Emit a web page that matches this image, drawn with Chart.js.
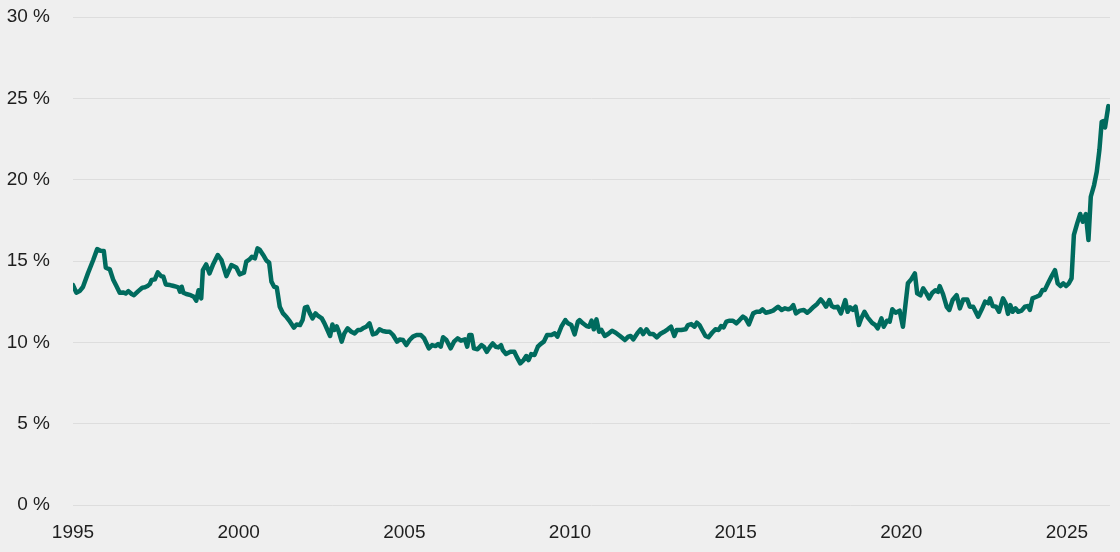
<!DOCTYPE html>
<html>
<head>
<meta charset="utf-8">
<script src="https://cdn.jsdelivr.net/npm/chart.js@4"></script>
<style>
  html, body { margin: 0; padding: 0; background: #efefef; }
  canvas { display: block; }
</style>
</head>
<body>
<canvas id="canvas1" width="1120" height="552"></canvas>
<script>
// time position (decimal year) and share in %
const years = [
  1995.00, 1995.10, 1995.20, 1995.30, 1995.45, 1995.61, 1995.73, 1995.83, 1995.93, 1995.99,
  1996.11, 1996.21, 1996.31, 1996.41, 1996.51, 1996.59, 1996.67, 1996.77, 1996.84, 1996.97,
  1997.09, 1997.17, 1997.25, 1997.32, 1997.37, 1997.47, 1997.56, 1997.66, 1997.73, 1997.80,
  1997.93, 1998.01, 1998.11, 1998.18, 1998.23, 1998.28, 1998.33, 1998.42, 1998.55, 1998.65,
  1998.72, 1998.79, 1998.87, 1998.92, 1999.02, 1999.12, 1999.22, 1999.37, 1999.48, 1999.63,
  1999.78, 1999.93, 2000.03, 2000.16, 2000.23, 2000.33, 2000.40, 2000.49, 2000.57, 2000.64,
  2000.74, 2000.84, 2000.92, 2000.99, 2001.07, 2001.15, 2001.24, 2001.34, 2001.45, 2001.55,
  2001.67, 2001.75, 2001.85, 2001.93, 2002.00, 2002.07, 2002.15, 2002.23, 2002.32, 2002.40,
  2002.51, 2002.59, 2002.68, 2002.76, 2002.83, 2002.89, 2002.96, 2003.02, 2003.11, 2003.19,
  2003.29, 2003.40, 2003.50, 2003.60, 2003.68, 2003.75, 2003.85, 2003.95, 2004.05, 2004.15,
  2004.25, 2004.35, 2004.46, 2004.56, 2004.66, 2004.78, 2004.86, 2004.96, 2005.06, 2005.16,
  2005.26, 2005.37, 2005.50, 2005.60, 2005.74, 2005.84, 2005.94, 2006.02, 2006.10, 2006.17,
  2006.27, 2006.40, 2006.50, 2006.61, 2006.71, 2006.83, 2006.90, 2006.96, 2007.03, 2007.10,
  2007.21, 2007.33, 2007.40, 2007.49, 2007.59, 2007.67, 2007.76, 2007.84, 2007.92, 2007.97,
  2008.07, 2008.20, 2008.32, 2008.39, 2008.50, 2008.60, 2008.68, 2008.75, 2008.83, 2008.93,
  2009.03, 2009.11, 2009.21, 2009.31, 2009.44, 2009.54, 2009.62, 2009.74, 2009.86, 2009.94,
  2010.04, 2010.14, 2010.24, 2010.29, 2010.39, 2010.50, 2010.58, 2010.65, 2010.72, 2010.80,
  2010.88, 2010.95, 2011.05, 2011.15, 2011.27, 2011.38, 2011.51, 2011.66, 2011.76, 2011.83,
  2011.91, 2012.03, 2012.13, 2012.21, 2012.31, 2012.41, 2012.51, 2012.62, 2012.72, 2012.84,
  2012.95, 2013.05, 2013.15, 2013.22, 2013.36, 2013.49, 2013.56, 2013.66, 2013.76, 2013.83,
  2013.91, 2013.99, 2014.09, 2014.18, 2014.29, 2014.39, 2014.49, 2014.56, 2014.64, 2014.72,
  2014.82, 2014.92, 2015.02, 2015.12, 2015.22, 2015.30, 2015.40, 2015.53, 2015.63, 2015.73,
  2015.81, 2015.91, 2016.03, 2016.13, 2016.28, 2016.39, 2016.49, 2016.59, 2016.66, 2016.74,
  2016.82, 2016.94, 2017.06, 2017.16, 2017.26, 2017.36, 2017.46, 2017.57, 2017.65, 2017.73,
  2017.83, 2017.90, 2017.98, 2018.08, 2018.18, 2018.31, 2018.38, 2018.46, 2018.54, 2018.62,
  2018.72, 2018.79, 2018.89, 2018.99, 2019.12, 2019.22, 2019.29, 2019.40, 2019.47, 2019.57,
  2019.65, 2019.73, 2019.83, 2019.95, 2020.05, 2020.20, 2020.30, 2020.41, 2020.48, 2020.58,
  2020.66, 2020.76, 2020.84, 2020.94, 2021.03, 2021.11, 2021.16, 2021.26, 2021.37, 2021.45,
  2021.55, 2021.67, 2021.77, 2021.87, 2021.99, 2022.07, 2022.17, 2022.32, 2022.43, 2022.53,
  2022.63, 2022.68, 2022.76, 2022.86, 2022.95, 2023.07, 2023.15, 2023.22, 2023.29, 2023.36,
  2023.45, 2023.53, 2023.63, 2023.73, 2023.83, 2023.88, 2023.96, 2024.08, 2024.18, 2024.26,
  2024.33, 2024.43, 2024.54, 2024.64, 2024.72, 2024.81, 2024.89, 2024.97, 2025.06, 2025.14,
  2025.21, 2025.31, 2025.40, 2025.48, 2025.57, 2025.65, 2025.72, 2025.82, 2025.90, 2025.98,
  2026.05, 2026.10, 2026.15, 2026.20, 2026.25
];
const share = [
  13.52, 13.05, 13.15, 13.40, 14.24, 15.06, 15.73, 15.63, 15.61, 14.59,
  14.49, 13.87, 13.46, 13.05, 13.07, 13.00, 13.15, 12.97, 12.90, 13.15,
  13.36, 13.38, 13.46, 13.58, 13.83, 13.87, 14.30, 14.07, 14.03, 13.56,
  13.52, 13.48, 13.42, 13.38, 13.11, 13.42, 13.05, 12.97, 12.90, 12.80,
  12.56, 13.20, 12.70, 14.44, 14.79, 14.24, 14.75, 15.37, 15.06, 14.07,
  14.75, 14.60, 14.18, 14.28, 14.96, 15.10, 15.26, 15.16, 15.78, 15.68,
  15.37, 15.02, 14.90, 13.73, 13.42, 13.38, 12.19, 11.78, 11.54, 11.27,
  10.90, 11.10, 11.06, 11.37, 12.13, 12.19, 11.78, 11.47, 11.78, 11.62,
  11.47, 11.17, 10.76, 10.39, 11.10, 10.76, 10.98, 10.67, 10.04, 10.55,
  10.86, 10.65, 10.55, 10.76, 10.76, 10.86, 10.96, 11.17, 10.49, 10.55,
  10.80, 10.70, 10.65, 10.65, 10.45, 10.04, 10.18, 10.14, 9.83, 10.14,
  10.35, 10.45, 10.45, 10.24, 9.63, 9.83, 9.77, 9.89, 9.73, 10.31,
  10.14, 9.63, 10.04, 10.24, 10.10, 10.18, 9.73, 10.45, 10.45, 9.63,
  9.57, 9.83, 9.73, 9.42, 9.73, 9.93, 9.73, 9.69, 9.83, 9.53,
  9.28, 9.42, 9.42, 9.12, 8.71, 8.91, 9.16, 8.91, 9.28, 9.22,
  9.73, 9.89, 10.04, 10.45, 10.45, 10.55, 10.35, 10.96, 11.37, 11.17,
  11.06, 10.49, 11.27, 11.37, 11.17, 11.00, 10.96, 11.33, 10.80, 11.41,
  10.65, 10.76, 10.39, 10.51, 10.71, 10.59, 10.39, 10.14, 10.35, 10.39,
  10.18, 10.55, 10.80, 10.51, 10.80, 10.51, 10.51, 10.31, 10.51, 10.65,
  10.80, 10.96, 10.39, 10.76, 10.76, 10.80, 11.06, 11.12, 10.96, 11.21,
  11.06, 10.76, 10.39, 10.31, 10.59, 10.80, 10.76, 11.00, 10.92, 11.27,
  11.33, 11.33, 11.17, 11.37, 11.58, 11.47, 11.10, 11.78, 11.88, 11.88,
  12.03, 11.82, 11.88, 11.95, 12.19, 11.99, 12.09, 12.03, 12.09, 12.29,
  11.78, 11.95, 11.99, 11.82, 11.99, 12.19, 12.36, 12.64, 12.44, 12.19,
  12.60, 12.23, 12.15, 12.19, 11.78, 12.60, 11.88, 12.15, 11.99, 12.19,
  11.06, 11.47, 11.88, 11.52, 11.20, 11.06, 10.86, 11.47, 10.96, 11.33,
  11.27, 12.03, 11.82, 11.95, 10.96, 13.63, 13.87, 14.24, 13.01, 12.89,
  13.32, 13.01, 12.70, 13.05, 13.20, 13.10, 13.46, 12.97, 12.19, 11.99,
  12.60, 12.90, 12.09, 12.64, 12.64, 12.19, 12.19, 11.58, 12.03, 12.50,
  12.40, 12.70, 12.23, 12.19, 11.88, 12.70, 12.40, 11.75, 12.29, 11.88,
  12.09, 11.88, 11.95, 12.19, 12.23, 11.99, 12.70, 12.80, 12.90, 13.21,
  13.21, 13.63, 14.07, 14.44, 13.63, 13.46, 13.63, 13.46, 13.63, 13.93,
  16.60, 17.31, 17.89, 17.41, 17.89, 16.29, 18.95, 19.67, 20.49, 21.82,
  23.56, 23.60, 23.21, 23.87, 24.52
];
const xTicks = [1995, 2000, 2005, 2010, 2015, 2020, 2025];
const yTicks = [0, 5, 10, 15, 20, 25, 30];

const points = years.map((yr, i) => ({ x: yr, y: share[i] }));

Chart.defaults.font.family = "'Liberation Sans', Arial, sans-serif";
Chart.defaults.font.size = 19;
Chart.defaults.color = '#1e1e1e';

const data = {
    datasets: [{
        label: 'Share',
        data: points,
        borderColor: 'rgb(0, 107, 94)',
        borderWidth: 4.5,
        pointRadius: 0,
        tension: 0,
        borderJoinStyle: 'round',
        borderCapStyle: 'round',
        fill: false
    }]
};

const config = {
    type: 'line',
    data: data,
    options: {
        responsive: false,
        animation: false,
        layout: { padding: { top: 17, right: 10, bottom: 0, left: 0 } },
        plugins: {
            legend: { display: false },
            tooltip: { enabled: false }
        },
        scales: {
            x: {
                type: 'linear',
                min: 1995,
                max: 2026.3,
                afterBuildTicks: (scale) => {
                    scale.ticks = xTicks.map(v => ({ value: v }));
                },
                afterFit: (scale) => { scale.height = 47; },
                grid: { display: false, drawTicks: false },
                border: { display: false },
                ticks: {
                    padding: 16,
                    maxRotation: 0,
                    autoSkip: false,
                    callback: (v) => String(v)
                }
            },
            y: {
                min: 0,
                max: 30,
                afterBuildTicks: (scale) => {
                    scale.ticks = yTicks.map(v => ({ value: v }));
                },
                afterFit: (scale) => {
                    scale.width = 73;
                    scale.paddingTop = 0;
                    scale.paddingBottom = 0;
                },
                grid: { color: '#dddddd', lineWidth: 1, drawTicks: false },
                border: { display: false },
                ticks: {
                    padding: 23,
                    callback: (v) => v + ' %'
                }
            }
        }
    }
};

new Chart(document.getElementById('canvas1'), config);
</script>
</body>
</html>
